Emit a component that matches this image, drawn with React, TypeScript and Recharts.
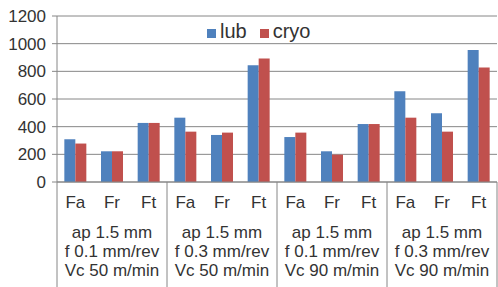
import React from "react";
import {
  BarChart,
  Bar,
  XAxis,
  YAxis,
  CartesianGrid,
  Legend,
} from "recharts";

const forces = ["Fa", "Fr", "Ft"];
const groupLabels = [
  ["ap 1.5 mm", "f 0.1 mm/rev", "Vc 50 m/min"],
  ["ap 1.5 mm", "f 0.3 mm/rev", "Vc 50 m/min"],
  ["ap 1.5 mm", "f 0.1 mm/rev", "Vc 90 m/min"],
  ["ap 1.5 mm", "f 0.3 mm/rev", "Vc 90 m/min"],
];
const seriesNames = ["lub", "cryo"];
const lub = [309, 222, 427, 465, 340, 844, 325, 222, 419, 656, 497, 954];
const cryo = [278, 222, 427, 364, 357, 892, 357, 198, 419, 465, 364, 827];
const yTicks = [0, 200, 400, 600, 800, 1000, 1200];
const yMinorTicks = Array.from({ length: 31 }, (_, i) => i * 40);

const data = lub.map((v, i) => ({
  force: forces[i % 3],
  group: Math.floor(i / 3),
  lub: v,
  cryo: cryo[i],
}));

const AXIS = "#868686";
const TEXT = "#333333";
const FONT = 17;

// category label + group separator lines (band edges)
function ForceTick(props: any) {
  const { x, y, payload, index, width, visibleTicksCount } = props;
  const band = width / visibleTicksCount;
  return (
    <g>
      <text
        x={x}
        y={y + 14}
        dy="0.71em"
        textAnchor="middle"
        fill={TEXT}
        fontSize={FONT}
      >
        {payload.value}
      </text>
      {index % 3 === 0 && (
        <line
          x1={x - band / 2}
          x2={x - band / 2}
          y1={y}
          y2={y + 106}
          stroke={AXIS}
        />
      )}
      {index === visibleTicksCount - 1 && (
        <line
          x1={x + band / 2}
          x2={x + band / 2}
          y1={y}
          y2={y + 106}
          stroke={AXIS}
        />
      )}
    </g>
  );
}

function GroupTick(props: any) {
  const { x, y, payload, index } = props;
  if (index % 3 !== 1) return <g />;
  const lines = groupLabels[payload.value];
  return (
    <text x={x} y={y} textAnchor="middle" fill={TEXT} fontSize={FONT}>
      {lines.map((l: string, i: number) => (
        <tspan key={i} x={x} dy={i === 0 ? 21 : 19}>
          {l}
        </tspan>
      ))}
    </text>
  );
}

export default function App() {
  return (
    <div
      style={{
        position: "absolute",
        left: 0,
        top: 0,
        fontFamily: "'Liberation Sans', Arial, sans-serif",
      }}
    >
      <BarChart
        width={498}
        height={287}
        data={data}
        margin={{ top: 16, right: 1, left: 0, bottom: 0 }}
        barCategoryGap="20%"
        barGap={0}
      >
        <CartesianGrid
          vertical={false}
          stroke={AXIS}
          xAxisId="a_cat"
          yAxisId="main"
        />
        <XAxis
          xAxisId="a_cat"
          dataKey="force"
          axisLine={{ stroke: AXIS }}
          tickLine={false}
          tickSize={0}
          tickMargin={0}
          interval={0}
          height={35}
          tick={<ForceTick />}
        />
        <XAxis
          xAxisId="b_grp"
          dataKey="group"
          axisLine={false}
          tickLine={false}
          tickSize={0}
          tickMargin={0}
          interval={0}
          height={70}
          tick={<GroupTick />}
        />
        <YAxis
          yAxisId="main"
          domain={[0, 1200]}
          ticks={yTicks}
          interval={0}
          width={57}
          tickSize={5}
          tickMargin={6}
          tickLine={{ stroke: AXIS }}
          axisLine={{ stroke: AXIS }}
          tick={{ fill: TEXT, fontSize: FONT }}
        />
        <YAxis
          yAxisId="minor"
          domain={[0, 1200]}
          ticks={yMinorTicks}
          interval={0}
          mirror
          width={10}
          tickSize={3}
          tick={() => <g />}
          tickLine={{ stroke: AXIS }}
          axisLine={false}
        />
        <Legend
          layout="horizontal"
          verticalAlign="middle"
          align="center"
          iconType="square"
          iconSize={9}
          itemSorter={(item: any) => seriesNames.indexOf(item.value)}
          wrapperStyle={{ top: 19, left: 207, width: "auto", lineHeight: "24px" }}
          formatter={(value: string) => (
            <span style={{ color: TEXT, fontSize: 20, marginRight: 3 }}>
              {value}
            </span>
          )}
        />
        <Bar
          dataKey="lub"
          name="lub"
          fill="#4F81BD"
          xAxisId="a_cat"
          yAxisId="main"
          isAnimationActive={false}
        />
        <Bar
          dataKey="cryo"
          name="cryo"
          fill="#C0504D"
          xAxisId="a_cat"
          yAxisId="main"
          isAnimationActive={false}
        />
      </BarChart>
    </div>
  );
}
